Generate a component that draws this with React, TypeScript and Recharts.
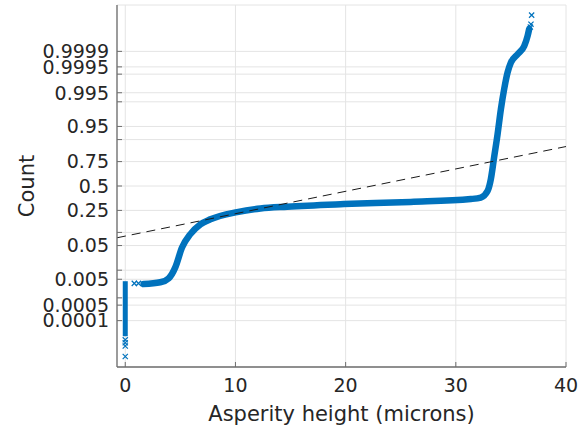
import React from 'react';
import { ComposedChart, Line, Scatter, XAxis, YAxis, CartesianGrid } from 'recharts';

// Asperity height (microns) vs normal-probability score (z) of the sorted sample
const curveX = [1.66, 3.18, 3.94, 4.55, 5.15, 5.91, 6.82, 7.73, 10.15, 12.27, 14.7, 19.85, 25.91, 31.36, 32.27, 32.88, 33.18, 33.48, 33.79, 34.09, 34.39, 34.7, 35.0, 35.61, 36.21, 36.52, 36.66];
const curveZ = [-2.71, -2.66, -2.55, -2.24, -1.7, -1.33, -1.06, -0.92, -0.72, -0.62, -0.57, -0.5, -0.44, -0.36, -0.32, -0.14, 0.19, 0.8, 1.43, 2.12, 2.68, 3.14, 3.41, 3.64, 3.87, 4.15, 4.34];

const lowBandX = [0.0, 0.0];
const lowBandZ = [-2.63, -4.15];

const markerX = [0.0, 0.0, 0.0, 0.0, 0.82, 1.2, 36.76, 36.82, 36.88];
const markerZ = [-4.25, -4.33, -4.42, -4.71, -2.69, -2.69, 4.39, 4.47, 4.72];

const refX = [-0.75, 40];
const refZ = [-1.43, 1.09];

const xTicks = [0, 10, 20, 30, 40];
const probLabels = ['0.0001', '0.0005', '0.001', '0.005', '0.01', '0.05', '0.1', '0.25', '0.5', '0.75', '0.9', '0.95', '0.99', '0.995', '0.999', '0.9995', '0.9999'];
const probZ = [-3.719, -3.291, -3.09, -2.576, -2.326, -1.645, -1.282, -0.674, 0, 0.674, 1.282, 1.645, 2.326, 2.576, 3.09, 3.291, 3.719];
const probShown = [true, true, false, true, false, true, false, true, true, true, false, true, false, true, false, true, true];

const curveData = curveX.map((x, i) => ({ x, z: curveZ[i] }));
const lowData = lowBandX.map((x, i) => ({ x, z: lowBandZ[i] }));
const markerData = markerX.map((x, i) => ({ x, z: markerZ[i] }));
const refData = refX.map((x, i) => ({ x, z: refZ[i] }));

const W = 584;
const H = 435;
const Y_AXIS_W = 117;
const X_AXIS_H = 68;
const M_TOP = 5;
const M_RIGHT = 18;
const PLOT_LEFT = Y_AXIS_W;
const PLOT_BOTTOM = H - X_AXIS_H;

const FONT = 'DejaVu Sans';
const TEXT = '#262626';
const BLUE = '#0072BD';
const AXIS = '#6e6e6e';

const YTick = (props: any) => {
  const { x, y, payload } = props;
  const i = probZ.indexOf(payload.value);
  const label = i >= 0 && probShown[i] ? probLabels[i] : '';
  return (
    <g>
      <line x1={PLOT_LEFT} x2={PLOT_LEFT + 5} y1={y} y2={y} stroke={AXIS} strokeWidth={1} />
      <text x={x} y={y} dy="0.36em" textAnchor="end" fontFamily={FONT} fontSize={19} fill={TEXT}>
        {label}
      </text>
    </g>
  );
};

const XTick = (props: any) => {
  const { x, y, payload } = props;
  return (
    <g>
      <line x1={x} x2={x} y1={PLOT_BOTTOM} y2={PLOT_BOTTOM - 5} stroke={AXIS} strokeWidth={1} />
      <text x={x} y={y} dy="0.71em" textAnchor="middle" fontFamily={FONT} fontSize={19} fill={TEXT}>
        {payload.value}
      </text>
    </g>
  );
};

const Cross = (props: any) => {
  const { cx, cy } = props;
  const r = 2.6;
  return (
    <path
      d={`M${cx - r},${cy - r}L${cx + r},${cy + r}M${cx - r},${cy + r}L${cx + r},${cy - r}`}
      stroke={BLUE}
      strokeWidth={1.2}
      fill="none"
    />
  );
};

export default function App() {
  return (
    <div style={{ position: 'absolute', left: 0, top: 0, width: W, height: H, background: '#fff' }}>
      <ComposedChart width={W} height={H} margin={{ top: M_TOP, right: M_RIGHT, bottom: 0, left: 0 }}>
        <CartesianGrid stroke="#e4e4e4" strokeWidth={1} />
        <XAxis
          type="number"
          dataKey="x"
          domain={[-0.75, 40]}
          ticks={xTicks}
          allowDataOverflow
          height={X_AXIS_H}
          tickSize={0}
          tickMargin={12}
          tickLine={false}
          axisLine={{ stroke: AXIS, strokeWidth: 1.3 }}
          tick={<XTick />}
          interval={0}
          label={(p: any) => {
            const vb = p.viewBox;
            return (
              <text x={vb.x + vb.width / 2} y={421} textAnchor="middle" fontFamily={FONT} fontSize={21} fill={TEXT}>
                Asperity height (microns)
              </text>
            );
          }}
        />
        <YAxis
          type="number"
          dataKey="z"
          domain={[-5, 5]}
          ticks={probZ}
          allowDataOverflow
          width={Y_AXIS_W}
          tickSize={0}
          tickMargin={8}
          tickLine={false}
          axisLine={{ stroke: AXIS, strokeWidth: 1.3 }}
          tick={<YTick />}
          interval={0}
          label={(p: any) => {
            const vb = p.viewBox;
            const cy = vb.y + vb.height / 2;
            return (
              <text x={34} y={cy} transform={`rotate(-90, 34, ${cy})`} textAnchor="middle" fontFamily={FONT} fontSize={21} fill={TEXT}>
                Count
              </text>
            );
          }}
        />
        <Line
          data={lowData}
          dataKey="z"
          type="linear"
          stroke={BLUE}
          strokeWidth={5}
          dot={false}
          activeDot={false}
          isAnimationActive={false}
        />
        <Line
          data={curveData}
          dataKey="z"
          type="monotoneX"
          stroke={BLUE}
          strokeWidth={6.5}
          strokeLinecap="round"
          dot={false}
          activeDot={false}
          isAnimationActive={false}
        />
        <Scatter data={markerData} dataKey="z" shape={<Cross />} isAnimationActive={false} />
        <Line
          data={refData}
          dataKey="z"
          type="linear"
          stroke="#1a1a1a"
          strokeWidth={1}
          strokeDasharray="9 6"
          dot={false}
          activeDot={false}
          isAnimationActive={false}
        />
      </ComposedChart>
    </div>
  );
}
